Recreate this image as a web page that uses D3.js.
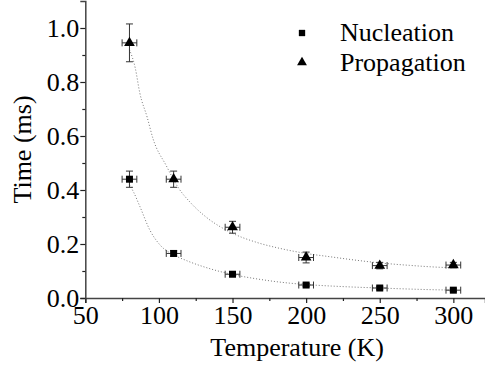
<!DOCTYPE html>
<html>
<head>
<meta charset="utf-8">
<script src="https://cdn.jsdelivr.net/npm/d3@7"></script>
<style>
  body { margin: 0; background: #fff; }
  svg { display: block; }
  text { font-family: "Liberation Serif", "Times New Roman", serif; fill: #000; }
</style>
</head>
<body>
<svg id="chart" width="485" height="375"></svg>
<script>
// measured points
const temps = [80, 110, 150, 200, 250, 300];
const tempErr = 5;
const nucleation = [0.44, 0.165, 0.088, 0.048, 0.037, 0.029];
const nucleationErr = [0.03, 0.01, 0.008, 0.006, 0.006, 0.005];
const propagation = [0.945, 0.44, 0.262, 0.15, 0.12, 0.122];
const propagationErr = [0.07, 0.03, 0.022, 0.02, 0.012, 0.01];

// fitted curves
const fitNucT = [80, 83, 87, 94, 101, 110, 119, 135, 150, 164, 187, 200, 230, 250, 277, 300];
const fitNucV = [0.42, 0.39, 0.34, 0.25, 0.195, 0.16, 0.138, 0.108, 0.087, 0.073, 0.056, 0.05, 0.041, 0.037, 0.032, 0.029];
const fitPropT = [80, 84, 87, 92, 96, 105, 113, 122, 132, 148, 167, 182, 200, 216, 231, 250, 270, 290, 300];
const fitPropV = [0.92, 0.85, 0.76, 0.67, 0.59, 0.49, 0.41, 0.35, 0.30, 0.245, 0.205, 0.184, 0.165, 0.153, 0.142, 0.130, 0.121, 0.114, 0.112];

const xTicks = [50, 100, 150, 200, 250, 300];
const xMinor = [75, 125, 175, 225, 275];
const yTicks = [0, 0.2, 0.4, 0.6, 0.8, 1.0];
const yMinor = [0.1, 0.3, 0.5, 0.7, 0.9];

const svg = d3.select("#chart");
const x = d3.scaleLinear().domain([50, 321.5]).range([85.3, 485]);
const y = d3.scaleLinear().domain([0, 1.1]).range([298, 1]);

// fit lines
function drawFit(ts, vs) {
  svg.append("path")
     .datum(ts.map((t, i) => [t, vs[i]]))
     .attr("d", d3.line().x(d => x(d[0])).y(d => y(d[1])).curve(d3.curveMonotoneX))
     .attr("fill", "none")
     .attr("stroke", "#777")
     .attr("stroke-width", 1)
     .attr("stroke-dasharray", "1,2");
}
drawFit(fitNucT, fitNucV);
drawFit(fitPropT, fitPropV);

// axes
const xAxis = svg.append("g").attr("transform", `translate(0,${y(0)})`)
  .call(d3.axisBottom(x).tickValues(xTicks).tickSize(5).tickFormat(d3.format("d")));
svg.append("g").attr("transform", `translate(0,${y(0)})`)
  .call(d3.axisBottom(x).tickValues(xMinor).tickSize(3).tickFormat(""))
  .call(g => g.select(".domain").remove());
const yAxis = svg.append("g").attr("transform", `translate(${x(50)},0)`)
  .call(d3.axisLeft(y).tickValues(yTicks).tickSize(5).tickFormat(d3.format(".1f")));
svg.append("g").attr("transform", `translate(${x(50)},0)`)
  .call(d3.axisLeft(y).tickValues(yMinor).tickSize(3).tickFormat(""))
  .call(g => g.select(".domain").remove());

svg.selectAll("g").attr("font-family", null).attr("font-size", null);
svg.selectAll(".domain").attr("stroke", "#444").attr("stroke-width", 1.5);
svg.selectAll(".tick line").attr("stroke", "#222").attr("stroke-width", 1.2);
svg.selectAll(".tick text")
   .style("font-family", "'Liberation Serif', 'Times New Roman', serif")
   .style("font-size", "26px").attr("fill", "#000");
xAxis.selectAll(".tick text").attr("y", 8).attr("dy", "0.71em");
yAxis.selectAll(".tick text").attr("x", -6).attr("dy", "0.32em");

svg.append("text")
   .attr("x", (x(50) + x(321.5)) / 2 + 12)
   .attr("y", 356)
   .attr("text-anchor", "middle")
   .style("font-size", "26px")
   .text("Temperature (K)");
svg.append("text")
   .attr("transform", `translate(31,${y(0.55)}) rotate(-90)`)
   .attr("text-anchor", "middle")
   .style("font-size", "26px")
   .text("Time (ms)");

// error bars + markers
function drawSeries(vals, errs, symbol, size) {
  const g = svg.append("g");
  temps.forEach((t, i) => {
    const cx = x(t), cy = y(vals[i]);
    const y1 = y(vals[i] + errs[i]), y2 = y(vals[i] - errs[i]);
    const x1 = x(t - tempErr), x2 = x(t + tempErr);
    const eb = g.append("g").attr("stroke", "#333").attr("stroke-width", 1);
    eb.append("line").attr("x1", cx).attr("x2", cx).attr("y1", y1).attr("y2", y2);
    eb.append("line").attr("x1", cx - 3.5).attr("x2", cx + 3.5).attr("y1", y1).attr("y2", y1);
    eb.append("line").attr("x1", cx - 3.5).attr("x2", cx + 3.5).attr("y1", y2).attr("y2", y2);
    eb.append("line").attr("x1", x1).attr("x2", x2).attr("y1", cy).attr("y2", cy);
    eb.append("line").attr("x1", x1).attr("x2", x1).attr("y1", cy - 3.5).attr("y2", cy + 3.5);
    eb.append("line").attr("x1", x2).attr("x2", x2).attr("y1", cy - 3.5).attr("y2", cy + 3.5);
    g.append("path")
     .attr("d", d3.symbol().type(symbol).size(size)())
     .attr("transform", `translate(${cx},${cy})`)
     .attr("fill", "#000");
  });
}
drawSeries(nucleation, nucleationErr, d3.symbolSquare, 49);
drawSeries(propagation, propagationErr, d3.symbolTriangle, 50);

// legend
const legendNames = ["Nucleation", "Propagation"];
const legendSymbols = [d3.symbolSquare, d3.symbolTriangle];
const legendSizes = [40, 42];
const lg = svg.append("g");
legendNames.forEach((name, i) => {
  const ly = 33 + i * 29.5;
  lg.append("path")
    .attr("d", d3.symbol().type(legendSymbols[i]).size(legendSizes[i])())
    .attr("transform", `translate(302,${ly})`)
    .attr("fill", "#000");
  lg.append("text")
    .attr("x", 340)
    .attr("y", ly + 8)
    .style("font-size", "26px")
    .text(name);
});
</script>
</body>
</html>
